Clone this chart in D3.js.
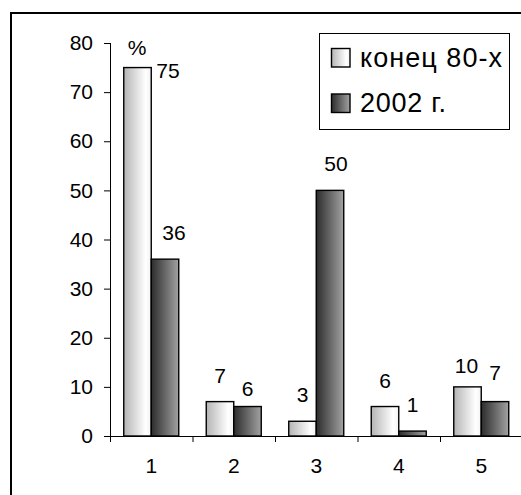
<!DOCTYPE html>
<html>
<head>
<meta charset="utf-8">
<script src="https://cdn.jsdelivr.net/npm/d3@7/dist/d3.min.js"></script>
<style>
  html, body { margin: 0; padding: 0; background: #fff; }
  svg { display: block; font-family: "Liberation Sans", Arial, sans-serif; }
</style>
</head>
<body>
<svg id="chart" width="521" height="495"></svg>
<script>
// Data
const categories = ["1", "2", "3", "4", "5"];
const seriesNames = ["конец 80-х", "2002 г."];
const valuesLate80s = [75, 7, 3, 6, 10];
const values2002 = [36, 6, 50, 1, 7];
const yTicks = [0, 10, 20, 30, 40, 50, 60, 70, 80];
const unitLabel = "%";

const W = 521, H = 495;
const FS = 21;
const svg = d3.select("#chart");

// Gradients for the two series
const defs = svg.append("defs");
function gradient(id, stops) {
  const g = defs.append("linearGradient").attr("id", id)
    .attr("x1", "0%").attr("x2", "100%").attr("y1", "0%").attr("y2", "0%");
  stops.forEach(([o, c]) => g.append("stop").attr("offset", o).attr("stop-color", c));
}
gradient("gLight", [["0%", "#b4b4b4"], ["80%", "#ffffff"], ["100%", "#f2f2f2"]]);
gradient("gDark", [["0%", "#2c2c2c"], ["100%", "#a2a2a2"]]);
const fills = ["url(#gLight)", "url(#gDark)"];

// Frame (top and left edges)
svg.append("path")
  .attr("d", `M11,${H + 2} L11,13 L${W + 2},13`)
  .attr("fill", "none").attr("stroke", "#000").attr("stroke-width", 2);

// Scales
const plotLeft = 110, plotRight = 522.5, plotTop = 43, plotBottom = 436;
const y = d3.scaleLinear().domain([0, 80]).range([plotBottom, plotTop]);
const x = d3.scaleBand().domain(categories).range([plotLeft, plotRight])
  .paddingInner(1 / 3).paddingOuter(1 / 6);
const xs = d3.scaleBand().domain(seriesNames).range([0, x.bandwidth()]);

// Y axis
const yAxis = svg.append("g")
  .attr("transform", `translate(${plotLeft},0)`)
  .call(d3.axisLeft(y).tickValues(yTicks).tickSize(6).tickPadding(11).tickFormat(d3.format("d")));
yAxis.select(".domain").attr("stroke", "#000").attr("d", `M0.5,${plotTop}V${plotBottom}`);
yAxis.selectAll(".tick line").attr("stroke", "#000");
yAxis.selectAll(".tick text").attr("font-size", FS).attr("fill", "#000")
  .attr("font-family", "'Liberation Sans', Arial, sans-serif");

// Bars
const rows = categories.map((c, i) => ({ cat: c, vals: [valuesLate80s[i], values2002[i]] }));
const groups = svg.append("g").selectAll("g").data(rows).join("g")
  .attr("transform", d => `translate(${x(d.cat)},0)`);
groups.selectAll("rect")
  .data(d => d.vals.map((v, k) => ({ cat: d.cat, s: seriesNames[k], k, v })))
  .join("rect")
  .attr("x", d => xs(d.s))
  .attr("width", xs.bandwidth())
  .attr("y", d => y(d.v))
  .attr("height", d => y(0) - y(d.v))
  .attr("fill", d => fills[d.k])
  .attr("stroke", "#000").attr("stroke-width", 1.4);

// X axis line and boundary ticks
const xAxis = svg.append("g");
xAxis.append("line")
  .attr("x1", plotLeft).attr("x2", plotRight)
  .attr("y1", plotBottom + 0.5).attr("y2", plotBottom + 0.5)
  .attr("stroke", "#000");
const bounds = d3.range(categories.length + 1).map(i => plotLeft + i * x.step());
xAxis.selectAll("line.tk").data(bounds).join("line").attr("class", "tk")
  .attr("x1", d => d + 0.5).attr("x2", d => d + 0.5)
  .attr("y1", plotBottom).attr("y2", plotBottom + 6)
  .attr("stroke", "#000");
xAxis.selectAll("text").data(categories).join("text")
  .attr("x", d => x(d) + x.bandwidth() / 2)
  .attr("y", 473)
  .attr("text-anchor", "middle").attr("font-size", FS).attr("fill", "#000")
  .text(d => d);

// Value labels above bars, with a few hand-placed adjustments
const nudge = {
  "1|0": { anchor: "start", dx: 0, dy: 0 },
  "1|1": { dx: 9, dy: 0 },
  "2|1": { dx: 0, dy: 8 },
  "3|1": { dx: 6, dy: 0 },
  "5|0": { dx: -1, dy: 5 },
  "5|1": { dx: 0, dy: -3 }
};
const labels = [];
rows.forEach(r => r.vals.forEach((v, k) => {
  const key = r.cat + "|" + k;
  const n = nudge[key] || {};
  const bx = x(r.cat) + xs(seriesNames[k]);
  if (n.anchor === "start") {
    labels.push({ v, x: bx + xs.bandwidth() + 5, y: y(v) + 10.7, anchor: "start" });
  } else {
    labels.push({ v, x: bx + xs.bandwidth() / 2 + (n.dx || 0), y: y(v) - 19 + (n.dy || 0), anchor: "middle" });
  }
}));
svg.append("g").selectAll("text").data(labels).join("text")
  .attr("x", d => d.x).attr("y", d => d.y)
  .attr("text-anchor", d => d.anchor)
  .attr("font-size", FS).attr("fill", "#000")
  .text(d => d.v);

// Unit label over the first bar
svg.append("text")
  .attr("x", x(categories[0]) + xs.bandwidth() / 2 - 0.5).attr("y", 55)
  .attr("text-anchor", "middle").attr("font-size", FS).attr("fill", "#000")
  .text(unitLabel);

// Legend
const legend = svg.append("g");
legend.append("rect")
  .attr("x", 319.5).attr("y", 33.5).attr("width", 190).attr("height", 96)
  .attr("fill", "#fff").attr("stroke", "#000").attr("stroke-width", 1);
const legendWidths = [142, 86];
seriesNames.forEach((name, k) => {
  const rowY = 48.5 + k * 45.5;
  legend.append("rect")
    .attr("x", 331.5).attr("y", rowY).attr("width", 18.5).attr("height", 18.5)
    .attr("fill", fills[k]).attr("stroke", "#000").attr("stroke-width", 1.4);
  legend.append("text")
    .attr("x", 360).attr("y", rowY + 18.2)
    .attr("font-size", 27).attr("fill", "#000")
    .attr("textLength", legendWidths[k]).attr("lengthAdjust", "spacing")
    .text(name);
});
</script>
</body>
</html>
